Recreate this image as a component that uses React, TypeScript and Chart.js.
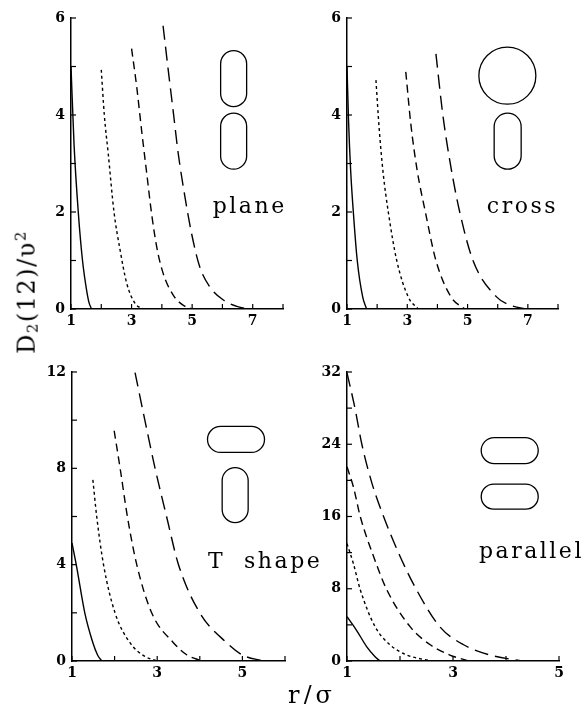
import React, { useEffect, useRef } from "react";
import { Chart, registerables } from "chart.js";

Chart.register(...registerables);

type Pt = [number, number];

// ---------- data: "plane" ----------
const planeSolid: Pt[] = [[1, 5], [1.1, 3.4], [1.24, 2], [1.38, 1], [1.52, 0.37], [1.6, 0.12], [1.68, 0]];
const planeDotted: Pt[] = [[2, 4.93], [2.1, 4], [2.23, 3.2], [2.42, 2], [2.62, 1.22], [2.84, 0.53], [3.11, 0.12], [3.38, 0]];
const planeMedium: Pt[] = [[3, 5.37], [3.17, 4.58], [3.33, 3.69], [3.5, 2.8], [3.66, 1.97], [3.83, 1.28], [4.04, 0.74], [4.37, 0.29], [4.7, 0.08], [5, 0]];
const planeLong: Pt[] = [[4.04, 5.84], [4.21, 4.93], [4.37, 4.1], [4.54, 3.21], [4.76, 2.32], [4.98, 1.56], [5.25, 0.87], [5.58, 0.46], [6.02, 0.19], [6.5, 0.05], [6.9, 0]];

// ---------- data: "cross" ----------
const crossSolid: Pt[] = [[1, 5], [1.05, 3.9], [1.12, 2.87], [1.21, 2], [1.34, 1], [1.52, 0.25], [1.65, 0]];
const crossDotted: Pt[] = [[1.96, 4.72], [2.07, 3.7], [2.2, 2.8], [2.37, 2], [2.65, 1], [3.03, 0.25], [3.36, 0]];
const crossMedium: Pt[] = [[2.95, 4.89], [3.12, 3.8], [3.33, 2.85], [3.6, 2], [3.95, 1], [4.45, 0.25], [4.91, 0]];
const crossLong: Pt[] = [[3.95, 5.26], [4.18, 4], [4.44, 2.95], [4.74, 2], [5.18, 1], [5.96, 0.25], [6.5, 0.06], [6.95, 0]];

// ---------- data: "T shape" ----------
const tSolid: Pt[] = [[1, 4.9], [1.11, 3.9], [1.3, 2], [1.49, 0.76], [1.6, 0.25], [1.7, 0]];
const tDotted: Pt[] = [[1.49, 7.52], [1.58, 6], [1.74, 4], [2.01, 2], [2.36, 0.76], [2.7, 0.2], [3, 0]];
const tMedium: Pt[] = [[1.99, 9.56], [2.13, 8], [2.3, 6], [2.52, 4], [2.87, 2], [3.38, 0.76], [3.7, 0.25], [4.05, 0]];
const tLong: Pt[] = [[2.48, 11.97], [2.71, 10], [2.95, 8], [3.22, 6], [3.5, 4], [4, 2], [4.63, 0.76], [5, 0.25], [5.49, 0]];

// ---------- data: "parallel" ----------
const parSolid: Pt[] = [[1, 4.9], [1.18, 3.4], [1.37, 1.6], [1.53, 0.48], [1.62, 0]];
const parDotted: Pt[] = [[1, 13], [1.12, 10.8], [1.25, 7.9], [1.53, 3.8], [1.81, 1.8], [2.13, 0.66], [2.6, 0]];
const parMedium: Pt[] = [[1, 21.5], [1.12, 19.3], [1.25, 16], [1.5, 11.6], [1.75, 7.9], [2.19, 3.8], [2.57, 1.8], [2.94, 0.66], [3.3, 0]];
const parLong: Pt[] = [[1, 31.9], [1.15, 28], [1.28, 24], [1.47, 19.7], [1.69, 16], [2, 11.6], [2.31, 7.9], [2.75, 3.8], [3.2, 1.8], [3.7, 0.66], [4.3, 0]];

// ---------- tick labels ----------
const topXLabels = [1, 3, 5, 7];
const topYLabels = [0, 2, 4, 6];
const tXLabels = [1, 3, 5];
const tYLabels = [0, 4, 8, 12];
const parXLabels = [1, 3, 5];
const parYLabels = [0, 8, 16, 24, 32];

const DASHES = [[], [3, 3], [8, 5], [14, 7]];

type Shape = { kind: "capsule" | "circle"; x: number; y: number; w: number; h: number };

type Spec = {
  left: number; top: number; width: number; height: number;
  yAxisW: number; xAxisH: number; padTop: number; padRight: number;
  xMin: number; xMax: number; xStep: number; xLabels: number[];
  yMin: number; yMax: number; yStep: number; yLabels: number[];
  series: Pt[][];
  label: string; labelX: number; labelY: number;
  shapes: Shape[];
};

const specs: Spec[] = [
  {
    left: 0, top: 0, width: 300, height: 340, yAxisW: 71, xAxisH: 31, padTop: 18, padRight: 17,
    xMin: 1, xMax: 8, xStep: 1, xLabels: topXLabels, yMin: 0, yMax: 6, yStep: 1, yLabels: topYLabels,
    series: [planeSolid, planeDotted, planeMedium, planeLong],
    label: "plane", labelX: 5.68, labelY: 1.97,
    shapes: [
      { kind: "capsule", x: 6.37, y: 4.75, w: 26, h: 56 },
      { kind: "capsule", x: 6.37, y: 3.46, w: 26, h: 56 },
    ],
  },
  {
    left: 290, top: 0, width: 297, height: 340, yAxisW: 57, xAxisH: 31, padTop: 18, padRight: 29,
    xMin: 1, xMax: 8, xStep: 1, xLabels: topXLabels, yMin: 0, yMax: 6, yStep: 1, yLabels: topYLabels,
    series: [crossSolid, crossDotted, crossMedium, crossLong],
    label: "cross", labelX: 5.64, labelY: 1.97,
    shapes: [
      { kind: "circle", x: 6.32, y: 4.81, w: 57, h: 57 },
      { kind: "capsule", x: 6.33, y: 3.46, w: 27, h: 56 },
    ],
  },
  {
    left: 0, top: 340, width: 330, height: 364, yAxisW: 72, xAxisH: 43, padTop: 32, padRight: 45,
    xMin: 1, xMax: 6, xStep: 1, xLabels: tXLabels, yMin: 0, yMax: 12, yStep: 2, yLabels: tYLabels,
    series: [tSolid, tDotted, tMedium, tLong],
    label: "T  shape", labelX: 4.19, labelY: 3.85,
    shapes: [
      { kind: "capsule", x: 4.85, y: 9.2, w: 57, h: 26 },
      { kind: "capsule", x: 4.83, y: 6.89, w: 26, h: 55 },
    ],
  },
  {
    left: 290, top: 340, width: 297, height: 364, yAxisW: 57, xAxisH: 43, padTop: 32, padRight: 28,
    xMin: 1, xMax: 5, xStep: 1, xLabels: parXLabels, yMin: 0, yMax: 32, yStep: 4, yLabels: parYLabels,
    series: [parSolid, parDotted, parMedium, parLong],
    label: "parallel", labelX: 3.49, labelY: 11.37,
    shapes: [
      { kind: "capsule", x: 4.07, y: 23.3, w: 57, h: 26 },
      { kind: "capsule", x: 4.07, y: 18.2, w: 57, h: 25 },
    ],
  },
];

const decorPlugin = {
  id: "decor",
  afterDraw(chart: any, _args: any, opts: any) {
    const { ctx } = chart;
    const x = chart.scales.x;
    const y = chart.scales.y;
    const spec: Spec = opts.spec;
    ctx.save();
    ctx.strokeStyle = "#000";
    ctx.lineWidth = 1.2;
    // inward tick marks
    x.ticks.forEach((t: any) => {
      const px = x.getPixelForValue(t.value);
      ctx.beginPath();
      ctx.moveTo(px, y.bottom);
      ctx.lineTo(px, y.bottom - 5);
      ctx.stroke();
    });
    y.ticks.forEach((t: any) => {
      const py = y.getPixelForValue(t.value);
      ctx.beginPath();
      ctx.moveTo(x.left, py);
      ctx.lineTo(x.left + 5, py);
      ctx.stroke();
    });
    // molecule shapes
    ctx.lineWidth = 1.3;
    spec.shapes.forEach((s) => {
      const cx = x.getPixelForValue(s.x);
      const cy = y.getPixelForValue(s.y);
      ctx.beginPath();
      if (s.kind === "circle") {
        ctx.arc(cx, cy, s.w / 2, 0, Math.PI * 2);
      } else {
        const r = Math.min(s.w, s.h) / 2;
        ctx.roundRect(cx - s.w / 2, cy - s.h / 2, s.w, s.h, r);
      }
      ctx.stroke();
    });
    // label
    ctx.fillStyle = "#000";
    ctx.font = '22px "DejaVu Serif"';
    (ctx as any).letterSpacing = "2.5px";
    ctx.textAlign = "left";
    ctx.textBaseline = "alphabetic";
    ctx.fillText(spec.label, x.getPixelForValue(spec.labelX), y.getPixelForValue(spec.labelY));
    ctx.restore();
  },
};

const tickFont = { family: "DejaVu Serif", weight: "bold" as const, size: 14 };

function Panel({ spec }: { spec: Spec }) {
  const ref = useRef<HTMLCanvasElement | null>(null);
  useEffect(() => {
    if (!ref.current) return;
    const has = (arr: number[], v: number) => arr.some((a) => Math.abs(a - v) < 1e-6);
    const chart = new Chart(ref.current, {
      type: "line",
      data: {
        datasets: spec.series.map((pts, i) => ({
          data: pts.map(([px, py]) => ({ x: px, y: py })),
          borderColor: "#000",
          borderWidth: 1.4,
          borderDash: DASHES[i],
          pointRadius: 0,
          fill: false,
          cubicInterpolationMode: "monotone" as const,
        })),
      },
      options: {
        animation: false,
        responsive: false,
        devicePixelRatio: 1,
        layout: { padding: { left: 0, top: spec.padTop, right: spec.padRight, bottom: 0 } },
        plugins: {
          legend: { display: false },
          tooltip: { enabled: false },
          decor: { spec },
        } as any,
        scales: {
          x: {
            type: "linear",
            min: spec.xMin,
            max: spec.xMax,
            afterFit: (s: any) => { s.height = spec.xAxisH; },
            grid: { display: false, drawTicks: false },
            border: { display: true, color: "#000", width: 1.5 },
            ticks: {
              stepSize: spec.xStep,
              autoSkip: false,
              maxRotation: 0,
              padding: 4,
              color: "#000",
              font: tickFont,
              callback: (v: any) => (has(spec.xLabels, Number(v)) ? String(v) : ""),
            },
          },
          y: {
            type: "linear",
            min: spec.yMin,
            max: spec.yMax,
            afterFit: (s: any) => { s.width = spec.yAxisW; },
            grid: { display: false, drawTicks: false },
            border: { display: true, color: "#000", width: 1.5 },
            ticks: {
              stepSize: spec.yStep,
              autoSkip: false,
              padding: 6,
              color: "#000",
              font: tickFont,
              callback: (v: any) => (has(spec.yLabels, Number(v)) ? String(v) : ""),
            },
          },
        },
      },
      plugins: [decorPlugin],
    });
    return () => chart.destroy();
  }, [spec]);
  return (
    <canvas
      ref={ref}
      width={spec.width}
      height={spec.height}
      style={{ position: "absolute", left: spec.left, top: spec.top, width: spec.width, height: spec.height }}
    />
  );
}

export default function App() {
  return (
    <div style={{ position: "absolute", left: 0, top: 0, width: 587, height: 704, background: "#fff", overflow: "hidden" }}>
      {specs.map((s, i) => (
        <Panel key={i} spec={s} />
      ))}
      <div
        style={{
          position: "absolute",
          left: 27,
          top: 292,
          transform: "translate(-50%, -50%) rotate(-90deg)",
          whiteSpace: "nowrap",
          font: '24px "DejaVu Serif"',
          letterSpacing: "1.5px",
          lineHeight: 1,
          color: "#000",
        }}
      >
        D<sub style={{ fontSize: "0.62em", verticalAlign: "-0.2em" }}>2</sub>(12)/υ
        <sup style={{ fontSize: "0.62em", verticalAlign: "0.6em" }}>2</sup>
      </div>
      <div
        style={{
          position: "absolute",
          left: 312,
          top: 695,
          transform: "translate(-50%, -50%)",
          whiteSpace: "nowrap",
          font: '24px "DejaVu Serif"',
          letterSpacing: "4px",
          lineHeight: 1,
          color: "#000",
        }}
      >
        r/σ
      </div>
    </div>
  );
}
